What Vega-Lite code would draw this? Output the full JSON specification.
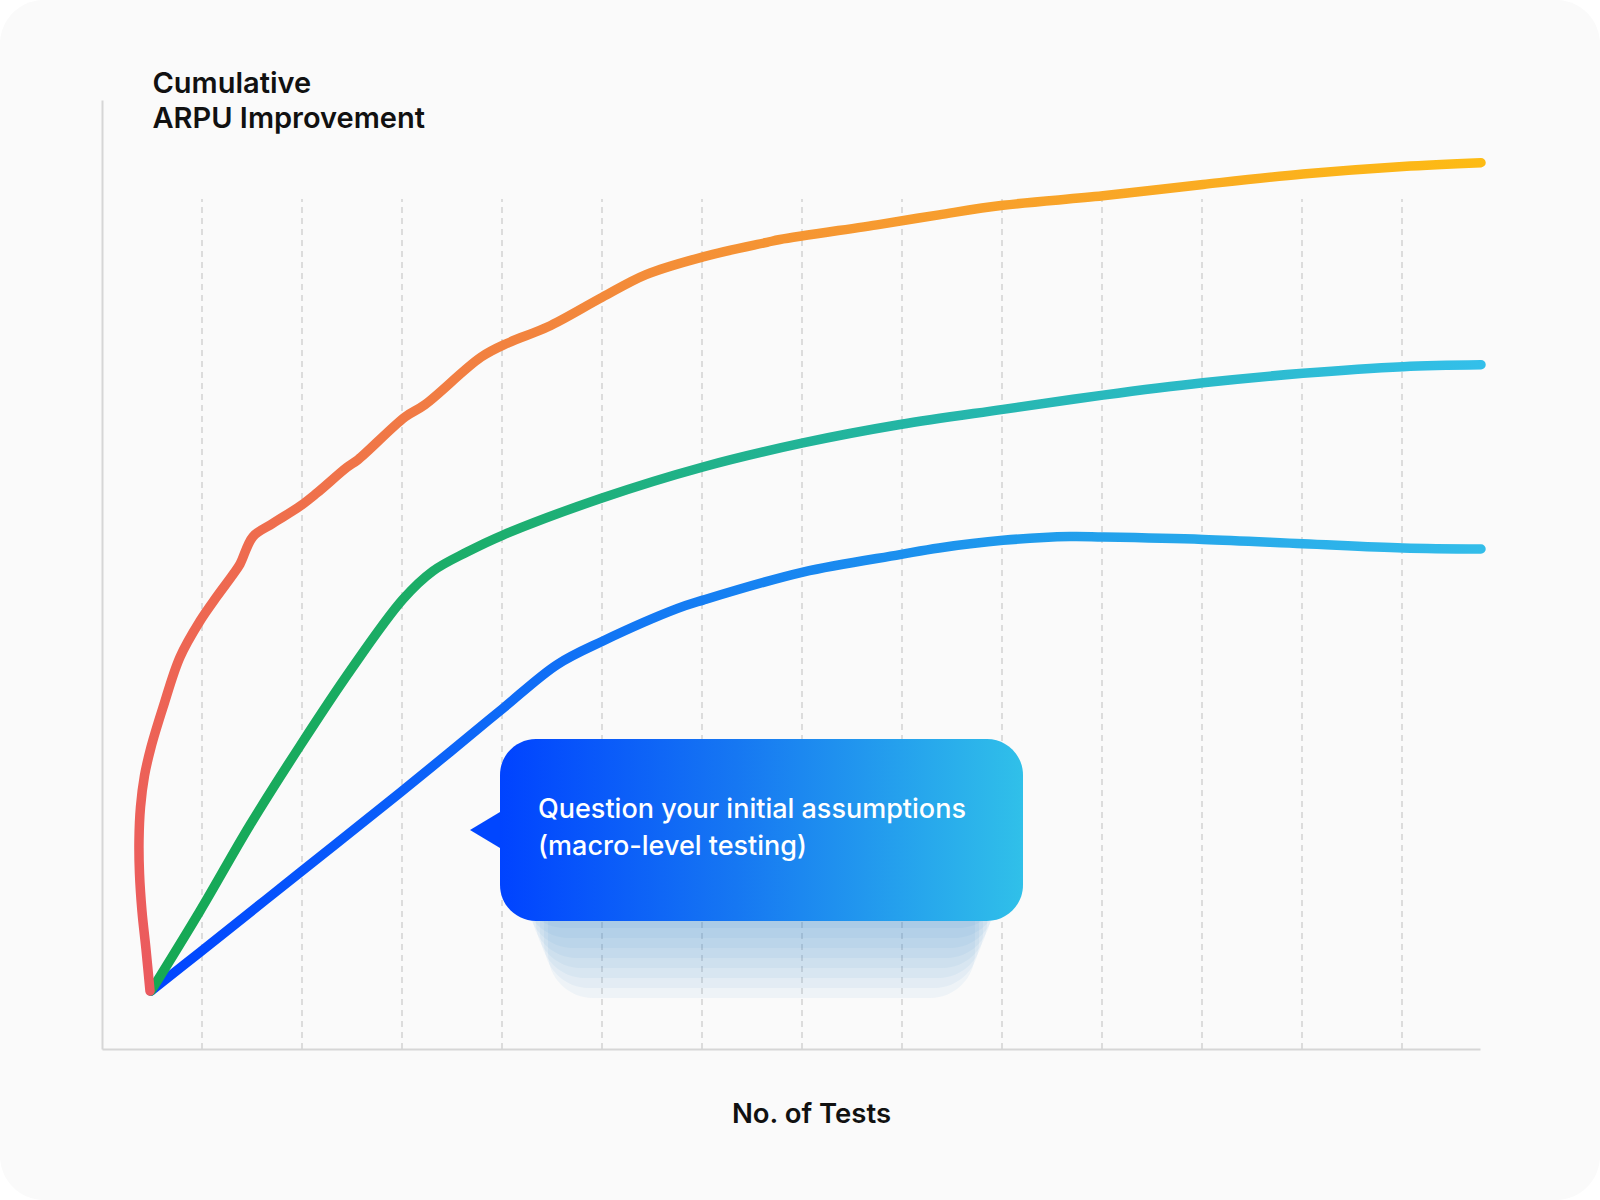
{
  "$schema": "https://vega.github.io/schema/vega-lite/v6.json",
  "autosize": "none",
  "width": 1378,
  "height": 949,
  "padding": {"left": 102, "top": 100, "right": 120, "bottom": 151},
  "background": "#ffffff",
  "datasets": {
    "curves": [
      {"series": "o", "x": 0.48, "y": 6.11},
      {"series": "o", "x": 0.44, "y": 10.5},
      {"series": "o", "x": 0.40, "y": 14.5},
      {"series": "o", "x": 0.375, "y": 18.5},
      {"series": "o", "x": 0.37, "y": 22.0},
      {"series": "o", "x": 0.385, "y": 25.5},
      {"series": "o", "x": 0.425, "y": 28.8},
      {"series": "o", "x": 0.49, "y": 31.8},
      {"series": "o", "x": 0.61, "y": 36.0},
      {"series": "o", "x": 0.78, "y": 41.3},
      {"series": "o", "x": 0.98, "y": 45.1},
      {"series": "o", "x": 1.15, "y": 47.7},
      {"series": "o", "x": 1.31, "y": 50.0},
      {"series": "o", "x": 1.38, "y": 51.1},
      {"series": "o", "x": 1.51, "y": 54.0},
      {"series": "o", "x": 1.71, "y": 55.4},
      {"series": "o", "x": 1.98, "y": 57.2},
      {"series": "o", "x": 2.15, "y": 58.6},
      {"series": "o", "x": 2.45, "y": 61.3},
      {"series": "o", "x": 2.56, "y": 62.1},
      {"series": "o", "x": 3.03, "y": 66.6},
      {"series": "o", "x": 3.23, "y": 67.9},
      {"series": "o", "x": 3.79, "y": 72.9},
      {"series": "o", "x": 4.06, "y": 74.4},
      {"series": "o", "x": 4.46, "y": 76.1},
      {"series": "o", "x": 5.00, "y": 79.2},
      {"series": "o", "x": 5.44, "y": 81.6},
      {"series": "o", "x": 6.02, "y": 83.5},
      {"series": "o", "x": 6.65, "y": 85.0},
      {"series": "o", "x": 6.78, "y": 85.3},
      {"series": "o", "x": 7.78, "y": 86.9},
      {"series": "o", "x": 8.37, "y": 87.9},
      {"series": "o", "x": 9.01, "y": 88.9},
      {"series": "o", "x": 10.01, "y": 89.9},
      {"series": "o", "x": 11.01, "y": 91.1},
      {"series": "o", "x": 12.01, "y": 92.2},
      {"series": "o", "x": 13.01, "y": 93.0},
      {"series": "o", "x": 13.79, "y": 93.4},
      {"series": "t", "x": 0.49, "y": 6.11},
      {"series": "t", "x": 0.98, "y": 14.54},
      {"series": "t", "x": 1.48, "y": 23.6},
      {"series": "t", "x": 1.98, "y": 31.93},
      {"series": "t", "x": 2.48, "y": 39.83},
      {"series": "t", "x": 3.01, "y": 47.4},
      {"series": "t", "x": 3.31, "y": 50.37},
      {"series": "t", "x": 3.65, "y": 52.37},
      {"series": "t", "x": 4.01, "y": 54.16},
      {"series": "t", "x": 5.00, "y": 58.06},
      {"series": "t", "x": 6.01, "y": 61.33},
      {"series": "t", "x": 7.01, "y": 63.86},
      {"series": "t", "x": 7.98, "y": 65.8},
      {"series": "t", "x": 9.01, "y": 67.4},
      {"series": "t", "x": 10.01, "y": 68.9},
      {"series": "t", "x": 11.01, "y": 70.2},
      {"series": "t", "x": 12.01, "y": 71.2},
      {"series": "t", "x": 13.01, "y": 71.9},
      {"series": "t", "x": 13.79, "y": 72.1},
      {"series": "b", "x": 0.49, "y": 6.11},
      {"series": "b", "x": 0.98, "y": 10.2},
      {"series": "b", "x": 1.98, "y": 18.6},
      {"series": "b", "x": 2.98, "y": 27.0},
      {"series": "b", "x": 3.48, "y": 31.3},
      {"series": "b", "x": 4.01, "y": 35.9},
      {"series": "b", "x": 4.55, "y": 40.5},
      {"series": "b", "x": 5.01, "y": 43.0},
      {"series": "b", "x": 5.75, "y": 46.4},
      {"series": "b", "x": 6.01, "y": 47.3},
      {"series": "b", "x": 7.01, "y": 50.26},
      {"series": "b", "x": 7.98, "y": 52.1},
      {"series": "b", "x": 8.37, "y": 52.8},
      {"series": "b", "x": 9.01, "y": 53.6},
      {"series": "b", "x": 9.68, "y": 54.0},
      {"series": "b", "x": 10.01, "y": 53.95},
      {"series": "b", "x": 11.01, "y": 53.7},
      {"series": "b", "x": 12.01, "y": 53.25},
      {"series": "b", "x": 13.01, "y": 52.8},
      {"series": "b", "x": 13.79, "y": 52.69}
    ]
  },
  "layer": [
    {
      "data": {"values": [{}]},
      "mark": {"type": "rect", "fill": "#fafafa", "cornerRadius": 44},
      "encoding": {
        "x": {
          "datum": -1.02,
          "type": "quantitative",
          "scale": {"domain": [0, 13.78], "nice": false, "zero": false},
          "axis": {
            "title": "No. of Tests",
            "grid": false,
            "ticks": false,
            "labels": false,
            "domainColor": "#d6d6d6",
            "domainWidth": 2,
            "titleFont": "Inter",
            "titleFontSize": 27.5,
            "titleFontWeight": 600,
            "titleColor": "#111111",
            "titleAlign": "center",
            "titleBaseline": "alphabetic",
            "titleX": 709,
            "titleY": 73,
            "zindex": 1
          }
        },
        "x2": {"datum": 14.98},
        "y": {
          "datum": 110.54,
          "type": "quantitative",
          "scale": {"domain": [0, 100], "nice": false, "zero": false},
          "axis": {
            "title": ["Cumulative", "ARPU Improvement"],
            "grid": false,
            "ticks": false,
            "labels": false,
            "domainColor": "#d6d6d6",
            "domainWidth": 2,
            "titleFont": "Inter",
            "titleFontSize": 29,
            "titleFontWeight": 600,
            "titleColor": "#111111",
            "titleAngle": 0,
            "titleAlign": "left",
            "titleBaseline": "alphabetic",
            "titleLineHeight": 35,
            "titleX": 50,
            "titleY": -8,
            "zindex": 1
          }
        },
        "y2": {"datum": -15.91}
      }
    },
    {
      "data": {"values": [{"g": 1}, {"g": 2}, {"g": 3}, {"g": 4}, {"g": 5}, {"g": 6}, {"g": 7}, {"g": 8}, {"g": 9}, {"g": 10}, {"g": 11}, {"g": 12}, {"g": 13}]},
      "mark": {"type": "rule", "color": "#d2d2d2", "strokeWidth": 1.5, "strokeDash": [6, 5]},
      "encoding": {
        "x": {"field": "g", "type": "quantitative"},
        "y": {"datum": 0, "type": "quantitative"},
        "y2": {"datum": 89.57}
      }
    },
    {
      "data": {"values": [{}]},
      "mark": {"type": "rect", "fill": "#3b82c8", "opacity": 0.06, "cornerRadius": 45},
      "encoding": {"x": {"datum": 4.18, "type": "quantitative"}, "x2": {"datum": 9.01}, "y": {"datum": 26.24, "type": "quantitative"}, "y2": {"datum": 12.75}}
    },
    {
      "data": {"values": [{}]},
      "mark": {"type": "rect", "fill": "#3b82c8", "opacity": 0.06, "cornerRadius": 45},
      "encoding": {"x": {"datum": 4.22, "type": "quantitative"}, "x2": {"datum": 8.97}, "y": {"datum": 26.24, "type": "quantitative"}, "y2": {"datum": 11.70}}
    },
    {
      "data": {"values": [{}]},
      "mark": {"type": "rect", "fill": "#3b82c8", "opacity": 0.06, "cornerRadius": 45},
      "encoding": {"x": {"datum": 4.26, "type": "quantitative"}, "x2": {"datum": 8.93}, "y": {"datum": 26.24, "type": "quantitative"}, "y2": {"datum": 10.64}}
    },
    {
      "data": {"values": [{}]},
      "mark": {"type": "rect", "fill": "#3b82c8", "opacity": 0.06, "cornerRadius": 45},
      "encoding": {"x": {"datum": 4.30, "type": "quantitative"}, "x2": {"datum": 8.89}, "y": {"datum": 26.24, "type": "quantitative"}, "y2": {"datum": 9.59}}
    },
    {
      "data": {"values": [{}]},
      "mark": {"type": "rect", "fill": "#3b82c8", "opacity": 0.06, "cornerRadius": 45},
      "encoding": {"x": {"datum": 4.34, "type": "quantitative"}, "x2": {"datum": 8.85}, "y": {"datum": 26.24, "type": "quantitative"}, "y2": {"datum": 8.54}}
    },
    {
      "data": {"values": [{}]},
      "mark": {"type": "rect", "fill": "#3b82c8", "opacity": 0.06, "cornerRadius": 45},
      "encoding": {"x": {"datum": 4.38, "type": "quantitative"}, "x2": {"datum": 8.81}, "y": {"datum": 26.24, "type": "quantitative"}, "y2": {"datum": 7.48}}
    },
    {
      "data": {"values": [{}]},
      "mark": {"type": "rect", "fill": "#3b82c8", "opacity": 0.06, "cornerRadius": 45},
      "encoding": {"x": {"datum": 4.42, "type": "quantitative"}, "x2": {"datum": 8.77}, "y": {"datum": 26.24, "type": "quantitative"}, "y2": {"datum": 6.43}}
    },
    {
      "data": {"values": [{}]},
      "mark": {"type": "rect", "fill": "#3b82c8", "opacity": 0.06, "cornerRadius": 45},
      "encoding": {"x": {"datum": 4.46, "type": "quantitative"}, "x2": {"datum": 8.73}, "y": {"datum": 26.24, "type": "quantitative"}, "y2": {"datum": 5.37}}
    },
    {
      "data": {"name": "curves"},
      "transform": [{"filter": "datum.series === 'b'"}],
      "mark": {
        "type": "line",
        "interpolate": "catmull-rom",
        "strokeWidth": 9.5,
        "strokeCap": "round",
        "strokeJoin": "round",
        "stroke": {
          "gradient": "linear",
          "x1": 0, "y1": 0, "x2": 1, "y2": 0,
          "stops": [
            {"offset": 0, "color": "#0044ff"},
            {"offset": 0.35, "color": "#1276f4"},
            {"offset": 0.65, "color": "#1f9aec"},
            {"offset": 1, "color": "#33bde9"}
          ]
        }
      },
      "encoding": {
        "x": {"field": "x", "type": "quantitative"},
        "y": {"field": "y", "type": "quantitative"}
      }
    },
    {
      "data": {"name": "curves"},
      "transform": [{"filter": "datum.series === 't'"}],
      "mark": {
        "type": "line",
        "interpolate": "catmull-rom",
        "strokeWidth": 9.5,
        "strokeCap": "round",
        "strokeJoin": "round",
        "stroke": {
          "gradient": "linear",
          "x1": 0, "y1": 0, "x2": 1, "y2": 0,
          "stops": [
            {"offset": 0, "color": "#16a853"},
            {"offset": 0.25, "color": "#1cae6c"},
            {"offset": 0.55, "color": "#23b5a2"},
            {"offset": 1, "color": "#33bfea"}
          ]
        }
      },
      "encoding": {
        "x": {"field": "x", "type": "quantitative"},
        "y": {"field": "y", "type": "quantitative"}
      }
    },
    {
      "data": {"name": "curves"},
      "transform": [{"filter": "datum.series === 'o'"}],
      "mark": {
        "type": "line",
        "interpolate": "catmull-rom",
        "strokeWidth": 9.5,
        "strokeCap": "round",
        "strokeJoin": "round",
        "stroke": {
          "gradient": "linear",
          "x1": 0, "y1": 1, "x2": 1, "y2": 0,
          "stops": [
            {"offset": 0, "color": "#eb5a5f"},
            {"offset": 0.3, "color": "#ee6a4f"},
            {"offset": 0.6, "color": "#f38a3a"},
            {"offset": 0.8, "color": "#f8a12b"},
            {"offset": 1, "color": "#fdbb14"}
          ]
        }
      },
      "encoding": {
        "x": {"field": "x", "type": "quantitative"},
        "y": {"field": "y", "type": "quantitative"},
        "order": {"field": "y", "type": "quantitative"}
      }
    },
    {
      "data": {"values": [{}]},
      "mark": {"type": "point", "shape": "M -1 0 L 1.67 -1.6 L 1.67 1.6 Z", "size": 900, "filled": true, "fill": "#0046ff", "opacity": 1, "strokeWidth": 0},
      "encoding": {
        "x": {"datum": 3.83, "type": "quantitative"},
        "y": {"datum": 23.08, "type": "quantitative"}
      }
    },
    {
      "data": {"values": [{}]},
      "mark": {
        "type": "rect",
        "cornerRadius": 36,
        "fill": {
          "gradient": "linear",
          "x1": 0, "y1": 0, "x2": 1, "y2": 0,
          "stops": [
            {"offset": 0, "color": "#0043ff"},
            {"offset": 0.45, "color": "#1677f2"},
            {"offset": 1, "color": "#30c0e9"}
          ]
        }
      },
      "encoding": {
        "x": {"datum": 3.98, "type": "quantitative"},
        "x2": {"datum": 9.21},
        "y": {"datum": 32.67, "type": "quantitative"},
        "y2": {"datum": 13.49}
      }
    },
    {
      "data": {"values": [{"label": "Question your initial assumptions\n(macro-level testing)"}]},
      "mark": {
        "type": "text",
        "align": "left",
        "baseline": "alphabetic",
        "lineBreak": "\n",
        "lineHeight": 37,
        "font": "Inter",
        "fontSize": 27,
        "fontWeight": 500,
        "letterSpacing": 0.45,
        "color": "#ffffff"
      },
      "encoding": {
        "x": {"datum": 4.36, "type": "quantitative"},
        "y": {"datum": 24.34, "type": "quantitative"},
        "text": {"field": "label"}
      }
    }
  ],
  "config": {
    "view": {"stroke": null},
    "font": "Inter"
  }
}
